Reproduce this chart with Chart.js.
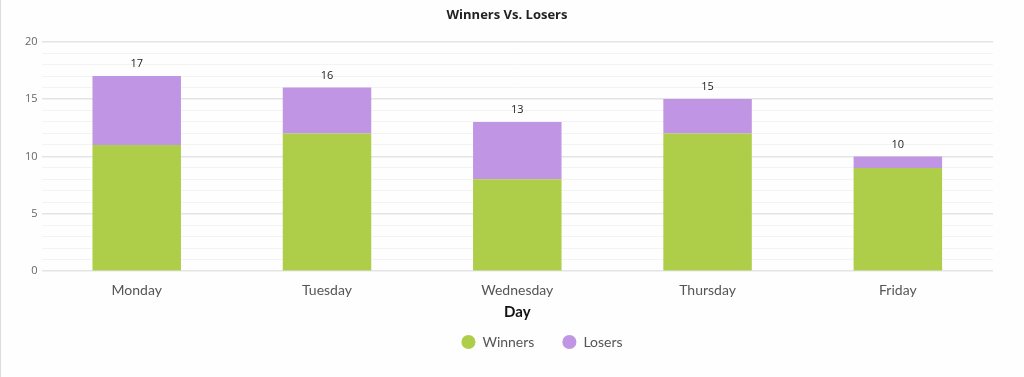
<!DOCTYPE html>
<html>
<head>
<meta charset="utf-8">
<script src="https://cdn.jsdelivr.net/npm/chart.js@4"></script>
<style>
    html, body { margin: 0; padding: 0; background: #fefefe; }
    #wrap { width: 1024px; height: 377px; position: relative; box-sizing: border-box; border-left: 1px solid #dcdcdc; }
</style>
</head>
<body>
<div id="wrap"><canvas id="winChart"></canvas></div>
<script>
const days = ["Monday", "Tuesday", "Wednesday", "Thursday", "Friday"];
const winners = [11, 12, 8, 12, 9];
const losers = [6, 4, 5, 3, 1];
const yTicks = [0, 5, 10, 15, 20];

const greenColor = "#aece4a";
const purpleColor = "#c095e4";

/* legend sits a bit right of centre in the original, and closer to the axis title */
const legendShiftX = 35;
const legendShiftY = 14;

/* totals drawn above each stack + legend nudge */
const totalLabels = {
    id: "totalLabels",
    afterLayout(chart){
        const lg = chart.legend;
        lg.left += legendShiftX;
        lg.right += legendShiftX;
        lg.top -= legendShiftY;
        lg.bottom -= legendShiftY;
    },
    afterDatasetsDraw(chart){
        const ctx = chart.ctx;
        const meta = chart.getDatasetMeta(1);
        ctx.save();
        ctx.font = "11px 'Open Sans'";
        ctx.fillStyle = "#222";
        ctx.textAlign = "center";
        ctx.textBaseline = "middle";
        meta.data.forEach((bar, i) => {
            const total = winners[i] + losers[i];
            ctx.fillText(total, bar.x, bar.y - 12);
        });
        ctx.restore();
    }
};

function renderChart(){
    const ctx = document.getElementById("winChart").getContext("2d");
    new Chart(ctx, {
        type: "bar",
        data: {
            labels: days,
            datasets: [{
                label: "Winners",
                data: winners,
                backgroundColor: greenColor,
                borderWidth: 0,
                categoryPercentage: 1,
                barPercentage: 0.465
            }, {
                label: "Losers",
                data: losers,
                backgroundColor: purpleColor,
                borderWidth: 0,
                categoryPercentage: 1,
                barPercentage: 0.465
            }]
        },
        options: {
            responsive: true,
            maintainAspectRatio: false,
            animation: false,
            layout: { padding: { left: 20, right: 31, top: 0, bottom: 4 } },
            plugins: {
                title: {
                    display: true,
                    text: "Winners Vs. Losers",
                    color: "#222",
                    font: { family: "'Open Sans'", size: 13, weight: "bold" },
                    padding: { top: 7, bottom: 19 }
                },
                legend: {
                    position: "bottom",
                    labels: {
                        usePointStyle: true,
                        pointStyle: "circle",
                        boxHeight: 10,
                        padding: 28,
                        color: "#555",
                        font: { family: "Lato", size: 14 }
                    }
                },
                tooltip: { enabled: false }
            },
            scales: {
                x: {
                    stacked: true,
                    grid: { display: false, drawTicks: false },
                    border: { display: false },
                    ticks: { color: "#555", padding: 11, font: { family: "Lato", size: 14 } },
                    title: {
                        display: true,
                        text: "Day",
                        color: "#111",
                        font: { family: "Lato", size: 15, weight: "bold" },
                        padding: { top: -7, bottom: 0 }
                    }
                },
                y: {
                    stacked: true,
                    min: 0,
                    max: 20,
                    border: { display: false },
                    grid: {
                        drawTicks: false,
                        color: c => (c.tick && yTicks.includes(c.tick.value)) ? "#e4e4e4" : "#f3f3f3",
                        lineWidth: c => (c.tick && yTicks.includes(c.tick.value)) ? 1.5 : 1
                    },
                    ticks: {
                        stepSize: 1,
                        autoSkip: false,
                        padding: 4,
                        color: "#666",
                        font: { family: "'Open Sans'", size: 11 },
                        callback: v => yTicks.includes(v) ? v : ""
                    }
                }
            }
        },
        plugins: [totalLabels]
    });
}

window.onload = function (){
    renderChart();
}
</script>
</body>
</html>
